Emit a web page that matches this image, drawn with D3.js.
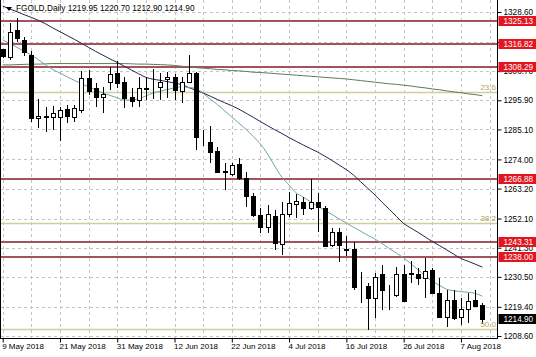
<!DOCTYPE html>
<html>
<head>
<meta charset="utf-8">
<script src="https://cdn.jsdelivr.net/npm/d3@7"></script>
<style>
  body { margin: 0; background: #fff; }
  svg text { font-family: "Liberation Sans", Arial, sans-serif; font-size: 8px; }
</style>
</head>
<body>
<div id="chart"></div>
<script>
// daily bars, 9 May 2018 .. 10 Aug 2018 (weekdays)
var opens  = [1314.8,1312.0,1321.9,1318.2,1312.7,1289.3,1289.7,1289.8,1289.6,1292.6,
              1289.8,1292.3,1304.0,1300.3,1297.0,1302.8,1305.9,1302.8,1297.0,1296.0,
              1300.0,1300.9,1300.9,1303.7,1304.5,1299.5,1302.8,1305.9,1280.2,1280.6,
              1277.1,1269.6,1268.5,1272.3,1267.0,1260.5,1253.4,1249.1,1253.0,1242.7,
              1253.8,1257.5,1258.4,1255.9,1258.1,1255.9,1242.3,1247.2,1240.7,1240.7,
              1227.3,1227.1,1222.6,1231.6,1224.4,1223.8,1231.6,1231.6,1231.6,1230.0,
              1233.0,1224.4,1215.7,1221.9,1215.5,1218.5,1221.9,1219.95];
var highs  = [1315.0,1324.4,1326.3,1319.3,1314.3,1296.4,1293.5,1293.8,1293.3,1294.2,
              1294.2,1306.9,1307.1,1302.2,1301.0,1308.3,1310.6,1304.6,1300.5,1304.6,
              1304.4,1307.4,1305.9,1306.5,1305.6,1304.6,1312.7,1306.5,1284.9,1286.4,
              1278.5,1272.8,1272.8,1274.5,1269.5,1261.5,1256.0,1257.1,1255.3,1258.3,
              1262.0,1261.2,1260.0,1266.6,1261.5,1256.6,1248.5,1248.6,1245.6,1243.5,
              1232.4,1228.1,1232.0,1234.9,1227.5,1234.3,1234.9,1236.5,1233.7,1237.4,
              1233.7,1230.0,1225.6,1225.6,1222.5,1224.4,1225.6,1220.70];
var lows   = [1311.5,1310.8,1317.6,1312.3,1288.0,1285.6,1284.3,1285.0,1280.9,1287.4,
              1287.9,1291.3,1297.9,1293.3,1291.1,1299.7,1300.3,1292.9,1293.5,1293.3,
              1296.0,1296.3,1296.0,1296.6,1296.0,1294.8,1302.2,1277.5,1279.0,1272.8,
              1269.1,1262.7,1267.9,1266.4,1256.5,1252.8,1246.6,1246.6,1240.5,1238.6,
              1252.8,1252.2,1253.4,1255.3,1247.2,1241.6,1241.7,1236.1,1238.2,1225.6,
              1220.7,1210.8,1215.2,1218.2,1218.2,1222.9,1221.3,1228.1,1227.5,1222.6,
              1224.0,1215.2,1212.0,1214.5,1212.7,1213.5,1219.2,1212.90];
var closes = [1312.3,1321.3,1318.9,1313.8,1289.2,1290.1,1289.9,1291.1,1292.3,1290.1,
              1292.9,1304.0,1299.5,1297.2,1298.2,1305.6,1302.4,1296.6,1295.6,1300.3,
              1300.6,1301.0,1302.8,1304.4,1299.7,1302.8,1305.9,1282.4,1279.9,1276.9,
              1269.5,1269.2,1271.9,1267.0,1260.5,1253.4,1249.1,1253.8,1242.9,1253.8,
              1258.0,1258.6,1255.9,1258.1,1256.3,1242.0,1247.2,1242.3,1240.5,1226.9,
              1227.2,1222.6,1230.3,1225.6,1224.6,1231.6,1221.7,1231.9,1230.0,1232.8,
              1224.4,1215.7,1221.9,1215.2,1218.5,1221.6,1219.8,1214.90];

// moving averages
var maFast = [1318.3,1316.9,1315.5,1314.1,1312.7,1310.9,1309.0,1307.3,1306.0,1304.6,
              1303.3,1302.0,1300.9,1299.7,1298.6,1297.7,1296.8,1296.0,1296.0,1296.5,
              1297.5,1298.6,1299.3,1299.9,1300.5,1300.9,1300.6,1300.4,1298.4,1296.3,
              1294.3,1292.0,1289.7,1287.4,1285.1,1282.5,1279.7,1276.0,1271.5,1267.4,
              1264.5,1261.6,1260.0,1258.3,1256.7,1255.1,1253.6,1252.0,1250.4,1248.9,
              1247.4,1245.9,1244.5,1242.8,1241.0,1239.3,1237.5,1235.4,1233.2,1230.9,
              1228.9,1227.4,1225.9,1225.4,1225.0,1224.8,1224.4,1223.3];
var maSlow = [1330.8,1329.7,1328.7,1327.6,1326.6,1325.5,1324.2,1322.7,1321.3,1319.9,
              1318.5,1317.0,1315.5,1314.0,1312.6,1311.2,1309.9,1308.5,1307.1,1305.7,
              1304.4,1303.7,1303.3,1302.8,1302.3,1301.7,1300.6,1299.6,1298.6,1297.4,
              1296.2,1295.0,1293.9,1292.6,1291.1,1289.6,1288.0,1286.5,1285.0,1283.6,
              1282.1,1280.7,1279.3,1278.0,1276.7,1275.2,1273.6,1271.9,1270.2,1268.2,
              1265.7,1263.3,1260.8,1258.1,1255.5,1252.9,1250.3,1248.6,1247.0,1245.3,
              1243.6,1242.1,1240.5,1238.9,1237.3,1236.3,1235.2,1234.1];
var maLong = [1309.0,1309.0,1309.1,1309.2,1309.3,1309.3,1309.4,1309.5,1309.5,1309.5,
              1309.5,1309.5,1309.5,1309.5,1309.5,1309.5,1309.5,1309.5,1309.4,1309.3,
              1309.3,1309.2,1309.1,1309.0,1308.8,1308.5,1308.3,1308.0,1307.8,1307.6,
              1307.3,1307.2,1306.9,1306.8,1306.6,1306.3,1306.2,1306.0,1305.8,1305.6,
              1305.4,1305.2,1305.0,1304.8,1304.6,1304.4,1304.2,1304.0,1303.8,1303.5,
              1303.2,1302.9,1302.6,1302.3,1302.0,1301.8,1301.5,1301.2,1300.8,1300.5,
              1300.1,1299.8,1299.4,1299.0,1298.7,1298.3,1298.0,1297.6];

var dateLabels = ["9 May 2018","21 May 2018","31 May 2018","12 Jun 2018","22 Jun 2018",
                  "4 Jul 2018","16 Jul 2018","26 Jul 2018","7 Aug 2018"];
var priceTicks = [1328.60,1317.50,1306.70,1295.90,1285.10,1274.00,1263.20,1252.10,
                  1241.30,1230.50,1219.40,1208.60];
var levels = [1325.13,1316.82,1308.29,1266.88,1243.31,1238.00];
var fibNames = ["23.6","38.2","50.0"];
var fibValues = [1299.0,1250.5,1211.3];
var lastPrice = 1214.90;
var title = "FGOLD,Daily  1219.95 1220.70 1212.90 1214.90";

var W = 536, H = 357;
var plotR = 497.5, plotB = 338.5;

var svg = d3.select("#chart").append("svg")
    .attr("width", W)
    .attr("height", H);

var x = d3.scaleLinear().domain([0, opens.length - 1]).range([2.7, 482.4]);
var y = d3.scaleLinear().domain([1208.6, 1328.6]).range([336, 12]);

function px(v) { return Math.round(v) + 0.5; }

svg.append("clipPath").attr("id", "plot")
  .append("rect").attr("x", 0).attr("y", 0).attr("width", plotR).attr("height", plotB);

var g = svg.append("g").attr("clip-path", "url(#plot)");

// grid
g.selectAll(".hgrid").data(priceTicks).enter().append("line")
    .attr("x1", 0).attr("x2", plotR)
    .attr("y1", function(d) { return px(y(d)); })
    .attr("y2", function(d) { return px(y(d)); })
    .attr("stroke", "#c4c4c4").attr("stroke-dasharray", "3,3")
    .style("shape-rendering", "crispEdges");

g.selectAll(".vgrid").data(d3.range(0, opens.length + 1, 4)).enter().append("line")
    .attr("x1", function(d) { return px(x(d)); })
    .attr("x2", function(d) { return px(x(d)); })
    .attr("y1", 0).attr("y2", plotB)
    .attr("stroke", "#c4c4c4").attr("stroke-dasharray", "3,3")
    .style("shape-rendering", "crispEdges");

// fibo levels
g.selectAll(".fib").data(fibValues).enter().append("line")
    .attr("x1", 0).attr("x2", plotR)
    .attr("y1", function(d) { return px(y(d)); })
    .attr("y2", function(d) { return px(y(d)); })
    .attr("stroke", "#d3cc9c").attr("stroke-width", 1.5);

svg.selectAll(".fibtext").data(fibValues).enter().append("text")
    .attr("x", 496).attr("y", function(d) { return y(d) - 2; })
    .attr("text-anchor", "end")
    .attr("fill", "#b3a35f")
    .text(function(d, i) { return fibNames[i]; });

// horizontal levels
g.selectAll(".level").data(levels).enter().append("line")
    .attr("x1", 0).attr("x2", plotR)
    .attr("y1", function(d) { return Math.round(y(d)); })
    .attr("y2", function(d) { return Math.round(y(d)); })
    .attr("stroke", "#a4535c").attr("stroke-width", 2)
    .style("shape-rendering", "crispEdges");

// moving averages
function maLine(arr) {
  return d3.line()
    .x(function(d, i) { return x(i); })
    .y(function(d) { return y(d); })
    .curve(d3.curveMonotoneX)(arr);
}
g.append("path").attr("d", maLine(maLong))
    .attr("fill", "none").attr("stroke", "#5e7a54").attr("stroke-width", 1);
g.append("path").attr("d", maLine(maSlow))
    .attr("fill", "none").attr("stroke", "#1f2650").attr("stroke-width", 1);
g.append("path").attr("d", maLine(maFast))
    .attr("fill", "none").attr("stroke", "#6da7aa").attr("stroke-width", 1);

// candles
var bars = g.selectAll(".bar").data(opens).enter().append("g");

bars.append("line")
    .attr("x1", function(d, i) { return px(x(i)); })
    .attr("x2", function(d, i) { return px(x(i)); })
    .attr("y1", function(d, i) { return y(highs[i]); })
    .attr("y2", function(d, i) { return y(lows[i]); })
    .attr("stroke", "#000")
    .style("shape-rendering", "crispEdges");

bars.append("rect")
    .attr("x", function(d, i) { return Math.round(x(i)) - 2 + 0.5; })
    .attr("y", function(d, i) { return Math.round(y(Math.max(opens[i], closes[i]))) + 0.5; })
    .attr("width", 4)
    .attr("height", function(d, i) {
      return Math.max(0, Math.round(y(Math.min(opens[i], closes[i]))) - Math.round(y(Math.max(opens[i], closes[i]))));
    })
    .attr("fill", function(d, i) { return closes[i] < opens[i] ? "#000" : "#fff"; })
    .attr("stroke", "#000")
    .style("shape-rendering", "crispEdges");

// frame
svg.append("line").attr("x1", plotR).attr("x2", plotR).attr("y1", 0).attr("y2", plotB)
    .attr("stroke", "#000").style("shape-rendering", "crispEdges");
svg.append("line").attr("x1", 0).attr("x2", plotR).attr("y1", plotB).attr("y2", plotB)
    .attr("stroke", "#000").style("shape-rendering", "crispEdges");
svg.append("line").attr("x1", 0.5).attr("x2", 0.5).attr("y1", 0).attr("y2", plotB)
    .attr("stroke", "#000").style("shape-rendering", "crispEdges");

// price axis
var yAxis = svg.append("g")
    .attr("transform", "translate(" + plotR + ",0)")
    .call(d3.axisRight(y).tickValues(priceTicks).tickFormat(d3.format(".2f"))
          .tickSize(4).tickPadding(2));
yAxis.select(".domain").remove();
yAxis.selectAll("text").style("font-size", "8.2px").attr("fill", "#000")
    .style("font-family", "\"Liberation Sans\", Arial, sans-serif");

// date axis
var xAxis = svg.append("g")
    .attr("transform", "translate(0," + plotB + ")")
    .call(d3.axisBottom(x).tickValues(d3.range(0, 65, 8))
          .tickFormat(function(d) { return dateLabels[d / 8]; })
          .tickSize(4).tickPadding(1));
xAxis.select(".domain").remove();
xAxis.selectAll("text").attr("text-anchor", "start").attr("dx", "-1")
    .style("font-size", "8px").attr("fill", "#000")
    .style("font-family", "\"Liberation Sans\", Arial, sans-serif");

// level price tags
var tags = svg.selectAll(".tag").data(levels).enter().append("g")
    .attr("transform", function(d) { return "translate(" + (plotR + 1) + "," + Math.round(y(d)) + ")"; });
tags.append("rect").attr("x", 0).attr("y", -5).attr("width", W - plotR).attr("height", 10)
    .attr("fill", "#e3161f");
tags.append("text").attr("x", 5).attr("y", 3).attr("fill", "#fff")
    .style("font-size", "8.2px")
    .text(function(d) { return d3.format(".2f")(d); });

var last = svg.append("g")
    .attr("transform", "translate(" + (plotR + 1) + "," + Math.round(y(lastPrice)) + ")");
last.append("rect").attr("x", 0).attr("y", -5).attr("width", W - plotR).attr("height", 10)
    .attr("fill", "#000");
last.append("text").attr("x", 5).attr("y", 3).attr("fill", "#fff")
    .style("font-size", "8.2px")
    .text(d3.format(".2f")(lastPrice));

// title
svg.append("path").attr("d", "M6,7 L12,7 L9,11 Z").attr("fill", "#000");
svg.append("text").attr("x", 16).attr("y", 11).attr("fill", "#000")
    .style("font-size", "8.3px").text(title);
</script>
</body>
</html>
